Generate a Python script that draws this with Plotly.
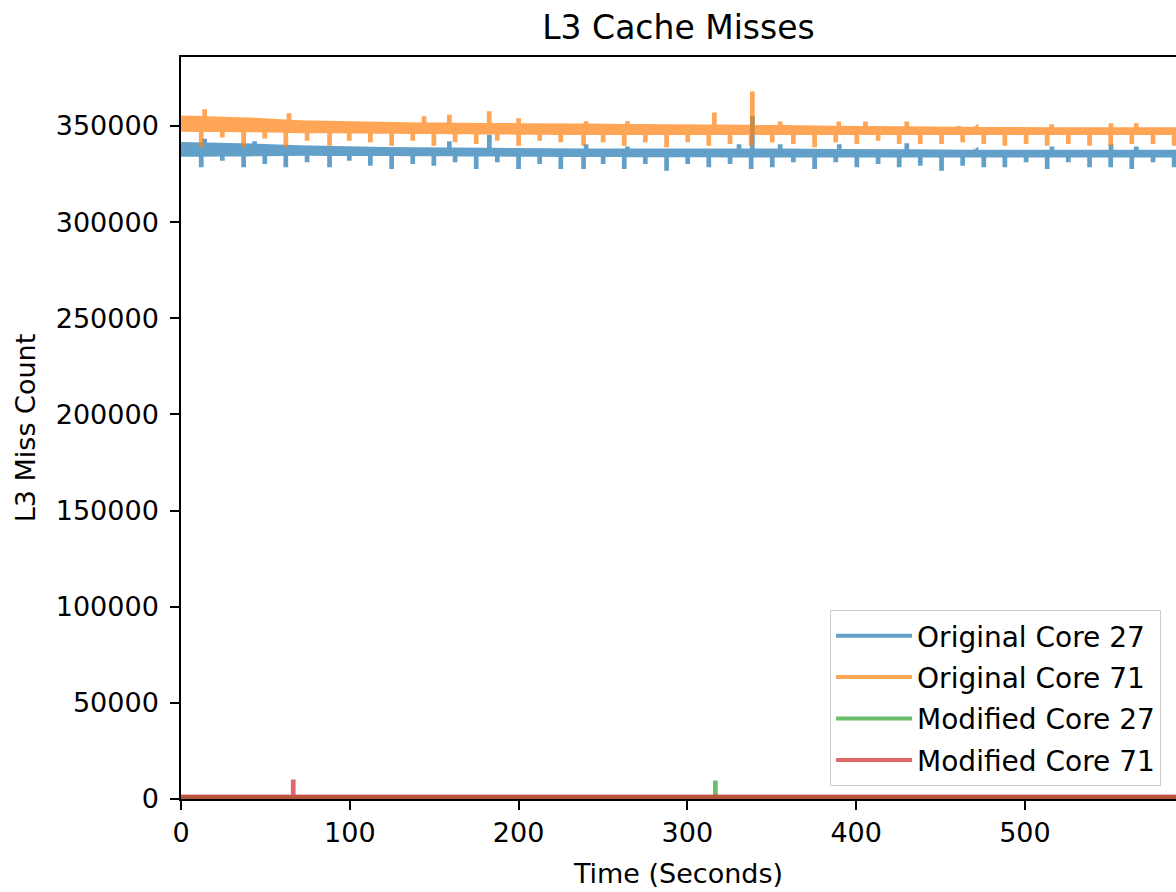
import numpy as np
import plotly.graph_objects as go

# ---------------- data ----------------
# periodic dips shared by both "Original" series (seconds)
dip_times = [12.0, 24.5, 37.1, 49.6, 62.1, 74.7, 88.0, 99.7, 112.2, 124.8,
             137.3, 149.8, 162.4, 174.9, 187.4, 200.0, 212.5, 225.0, 238.5, 250.1,
             262.6, 275.1, 287.7, 300.2, 312.7, 325.3, 337.8, 350.3, 362.8, 375.4,
             387.9, 400.4, 413.0, 425.5, 438.0, 450.6, 463.1, 475.6, 488.1, 500.7,
             513.2, 525.7, 538.3, 550.8, 563.3, 575.9, 588.4]
orig27_dips = [328500, 332000, 328500, 330300, 328500, 331200, 328500, 332000, 329400, 327700,
               330300, 329400, 331200, 327700, 331200, 327700, 330300, 327700, 327700, 330300,
               327700, 330300, 326800, 330300, 328500, 330300, 327700, 328500, 331200, 327700,
               331200, 328500, 330300, 328500, 329400, 326800, 329400, 328500, 328500, 331200,
               327700, 331200, 328500, 328500, 327700, 331200, 328500]
orig71_dips = [338900, 344000, 338900, 343500, 338900, 342400, 339800, 342400, 341600, 339800,
               342400, 339800, 341600, 340700, 342400, 339800, 342400, 341600, 339800, 341600,
               339800, 341600, 338900, 341600, 339800, 340700, 339800, 341600, 340700, 338900,
               341600, 340700, 342400, 340700, 340700, 340700, 341600, 340700, 339800, 340700,
               339800, 340700, 339800, 339800, 340700, 340700, 339800]

# upward spikes
orig27_peak_times = [14, 43.6, 159, 182.7, 240, 264.5, 330.6, 338.5, 355, 390, 430, 471, 516, 551, 566]
orig27_peaks = [343400, 342100, 342100, 345400, 340500, 339400, 340500, 355100, 340500, 340500,
                341100, 339400, 339400, 340500, 339400]
orig71_peak_times = [14, 64, 144, 159, 182.6, 200, 240, 264.5, 316, 338.5, 355, 389.7, 405.5,
                     430, 460.7, 471, 515.8, 551, 566]
orig71_peaks = [358700, 356700, 355100, 355900, 357700, 354100, 352500, 352500, 357000, 368000,
                352400, 352400, 352400, 352400, 350000, 351400, 350900, 351400, 351400]

# noise band (upper / lower envelope) of the Original series
env_times = [0, 40, 70, 120, 235, 353, 470, 595]
orig27_upper = [341700, 341000, 340000, 339100, 338300, 338300, 337700, 337700]
orig27_lower = [334000, 334200, 334500, 334400, 333900, 333600, 333600, 333600]
orig71_upper = [355500, 354500, 353000, 352000, 351300, 350500, 349500, 349300]
orig71_lower = [347000, 346800, 346300, 346000, 345300, 345300, 345300, 345300]

# Modified series: low band with a single spike each
mod_env_times = [0, 595]
mod27_upper = [2000, 2000]
mod27_lower = [0, 0]
mod27_peak_times = [316.6]
mod27_peaks = [9600]
mod71_upper = [2400, 2400]
mod71_lower = [0, 0]
mod71_peak_times = [66.5]
mod71_peaks = [10100]

names = ["Original Core 27", "Original Core 71", "Modified Core 27", "Modified Core 71"]
colors = ["rgba(31,119,180,0.7)", "rgba(255,127,14,0.7)",
          "rgba(44,160,44,0.7)", "rgba(214,39,40,0.7)"]

x_ticks = [0, 100, 200, 300, 400, 500]
y_ticks = [0, 50000, 100000, 150000, 200000, 250000, 300000, 350000]


# ---------------- helpers ----------------
def edge(knot_t, knot_v, ev_t, ev_v, half=1.4):
    pts = [(t, 0, v) for t, v in zip(knot_t, knot_v)]
    for t, v in zip(ev_t, ev_v):
        b1 = float(np.interp(t - half, knot_t, knot_v))
        b2 = float(np.interp(t + half, knot_t, knot_v))
        pts += [(t - half, 1, b1), (t - half, 2, v), (t + half, 3, v), (t + half, 4, b2)]
    pts.sort(key=lambda p: (p[0], p[1]))
    return [p[0] for p in pts], [p[2] for p in pts]


def band(env_t, upper, lower, peak_t, peaks, dip_t, dips):
    ux, uy = edge(env_t, upper, peak_t, peaks)
    lx, ly = edge(env_t, lower, dip_t, dips)
    return ux + lx[::-1], uy + ly[::-1]


series = [
    band(env_times, orig27_upper, orig27_lower, orig27_peak_times, orig27_peaks, dip_times, orig27_dips),
    band(env_times, orig71_upper, orig71_lower, orig71_peak_times, orig71_peaks, dip_times, orig71_dips),
    band(mod_env_times, mod27_upper, mod27_lower, mod27_peak_times, mod27_peaks, [], []),
    band(mod_env_times, mod71_upper, mod71_lower, mod71_peak_times, mod71_peaks, [], []),
]

fig = go.Figure()
for (xs, ys), name, col in zip(series, names, colors):
    fig.add_trace(go.Scatter(x=xs, y=ys, mode="lines", fill="toself", fillcolor=col,
                             line=dict(width=0, color=col), hoverinfo="skip",
                             showlegend=False, legendgroup=name))
for name, col in zip(names, colors):
    fig.add_trace(go.Scatter(x=[None], y=[None], mode="lines", name=name,
                             line=dict(color=col, width=4), legendgroup=name))

FONT = "DejaVu Sans"
W, H = 1176, 892
fig.update_layout(
    width=W, height=H,
    margin=dict(l=181, r=0, t=57, b=93),
    paper_bgcolor="white", plot_bgcolor="white",
    font=dict(family=FONT, size=27, color="black"),
    title=dict(text="L3 Cache Misses", x=0.5, xref="paper", xanchor="center",
               y=1 - 27 / H, yref="container", yanchor="middle",
               font=dict(family=FONT, size=33, color="black")),
    showlegend=True,
    legend=dict(x=0.985, y=0.0175, xanchor="right", yanchor="bottom",
                bgcolor="rgba(255,255,255,0.8)", bordercolor="#cccccc", borderwidth=1,
                font=dict(family=FONT, size=28, color="black"),
                itemwidth=76, traceorder="grouped", tracegroupgap=2),
)
fig.update_xaxes(range=[0, 589.5], tickvals=x_ticks, ticktext=[str(v) for v in x_ticks],
                 showgrid=False, zeroline=False, showline=True, linecolor="black",
                 linewidth=1.5, mirror=True, ticks="outside", ticklen=9, tickwidth=1.5,
                 tickcolor="black", ticklabelstandoff=0,
                 title=dict(text="Time (Seconds)", standoff=17,
                            font=dict(family=FONT, size=27, color="black")))
fig.update_yaxes(range=[0, 385900], tickvals=y_ticks, ticktext=[str(v) for v in y_ticks],
                 showgrid=False, zeroline=False, showline=True, linecolor="black",
                 linewidth=1.5, mirror=False, ticks="outside", ticklen=9, tickwidth=1.5,
                 tickcolor="black", ticklabelstandoff=6,
                 title=dict(text="L3 Miss Count", standoff=12,
                            font=dict(family=FONT, size=27, color="black")))

fig.write_html("out.html", config={"displayModeBar": False},
               post_script="document.body.style.margin='0';"
                           "document.body.style.overflow='hidden';")
